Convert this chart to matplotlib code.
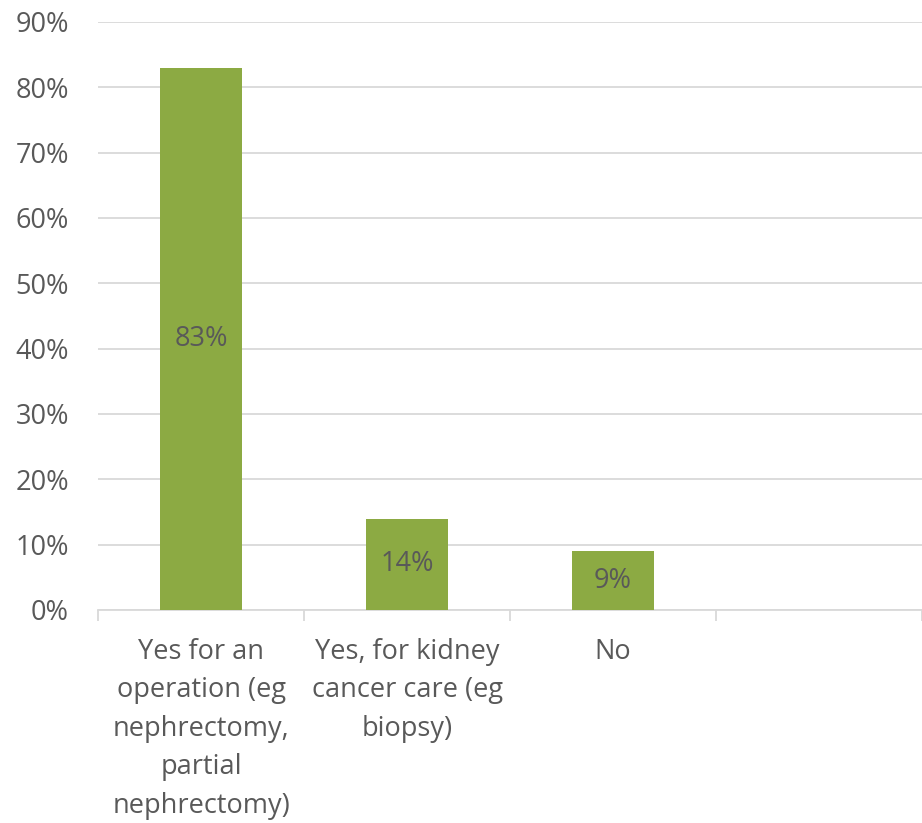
import matplotlib.pyplot as plt
import numpy as np

plt.rcParams['font.family'] = ['Open Sans', 'DejaVu Sans']

categories = ['Yes for an\noperation (eg\nnephrectomy,\npartial\nnephrectomy)',
              'Yes, for kidney\ncancer care (eg\nbiopsy)',
              'No']
values = [83, 14, 9]
yticks = [0, 10, 20, 30, 40, 50, 60, 70, 80, 90]

bar_color = '#8CAA43'
text_color = '#595959'
grid_color = '#D9D9D9'

fig = plt.figure(figsize=(9.22, 8.23), dpi=100)
ax = fig.add_axes([98/922, 213/823, 824/922, 588/823])

x = np.arange(len(categories))
bars = ax.bar(x, values, width=0.4, color=bar_color, zorder=3)

for rect, v in zip(bars, values):
    ax.text(rect.get_x() + rect.get_width()/2, v/2, f'{v}%',
            ha='center', va='center', fontsize=19.5, color=text_color, zorder=4)

ax.set_ylim(0, 90)
ax.set_yticks(yticks)
ax.set_yticklabels([f'{t}%' for t in yticks])
ax.yaxis.grid(True, color=grid_color, linewidth=1.3, zorder=0)
ax.tick_params(axis='y', length=0, pad=21, labelsize=19.5, labelcolor=text_color)

# one empty slot on the right of the category axis
ax.set_xlim(-0.5, 3.5)
ax.set_xticks(x)
ax.set_xticklabels(categories, linespacing=1.5)
ax.tick_params(axis='x', which='major', length=0, pad=20, labelsize=19.5,
               labelcolor=text_color)
ax.set_xticks(np.arange(-0.5, 4.0, 1.0), minor=True)
ax.tick_params(axis='x', which='minor', length=8, width=1.3, color=grid_color)

for side in ['top', 'right', 'left']:
    ax.spines[side].set_visible(False)
ax.spines['bottom'].set_color(grid_color)
ax.spines['bottom'].set_linewidth(1.3)

fig.savefig('out.png', dpi=100)
